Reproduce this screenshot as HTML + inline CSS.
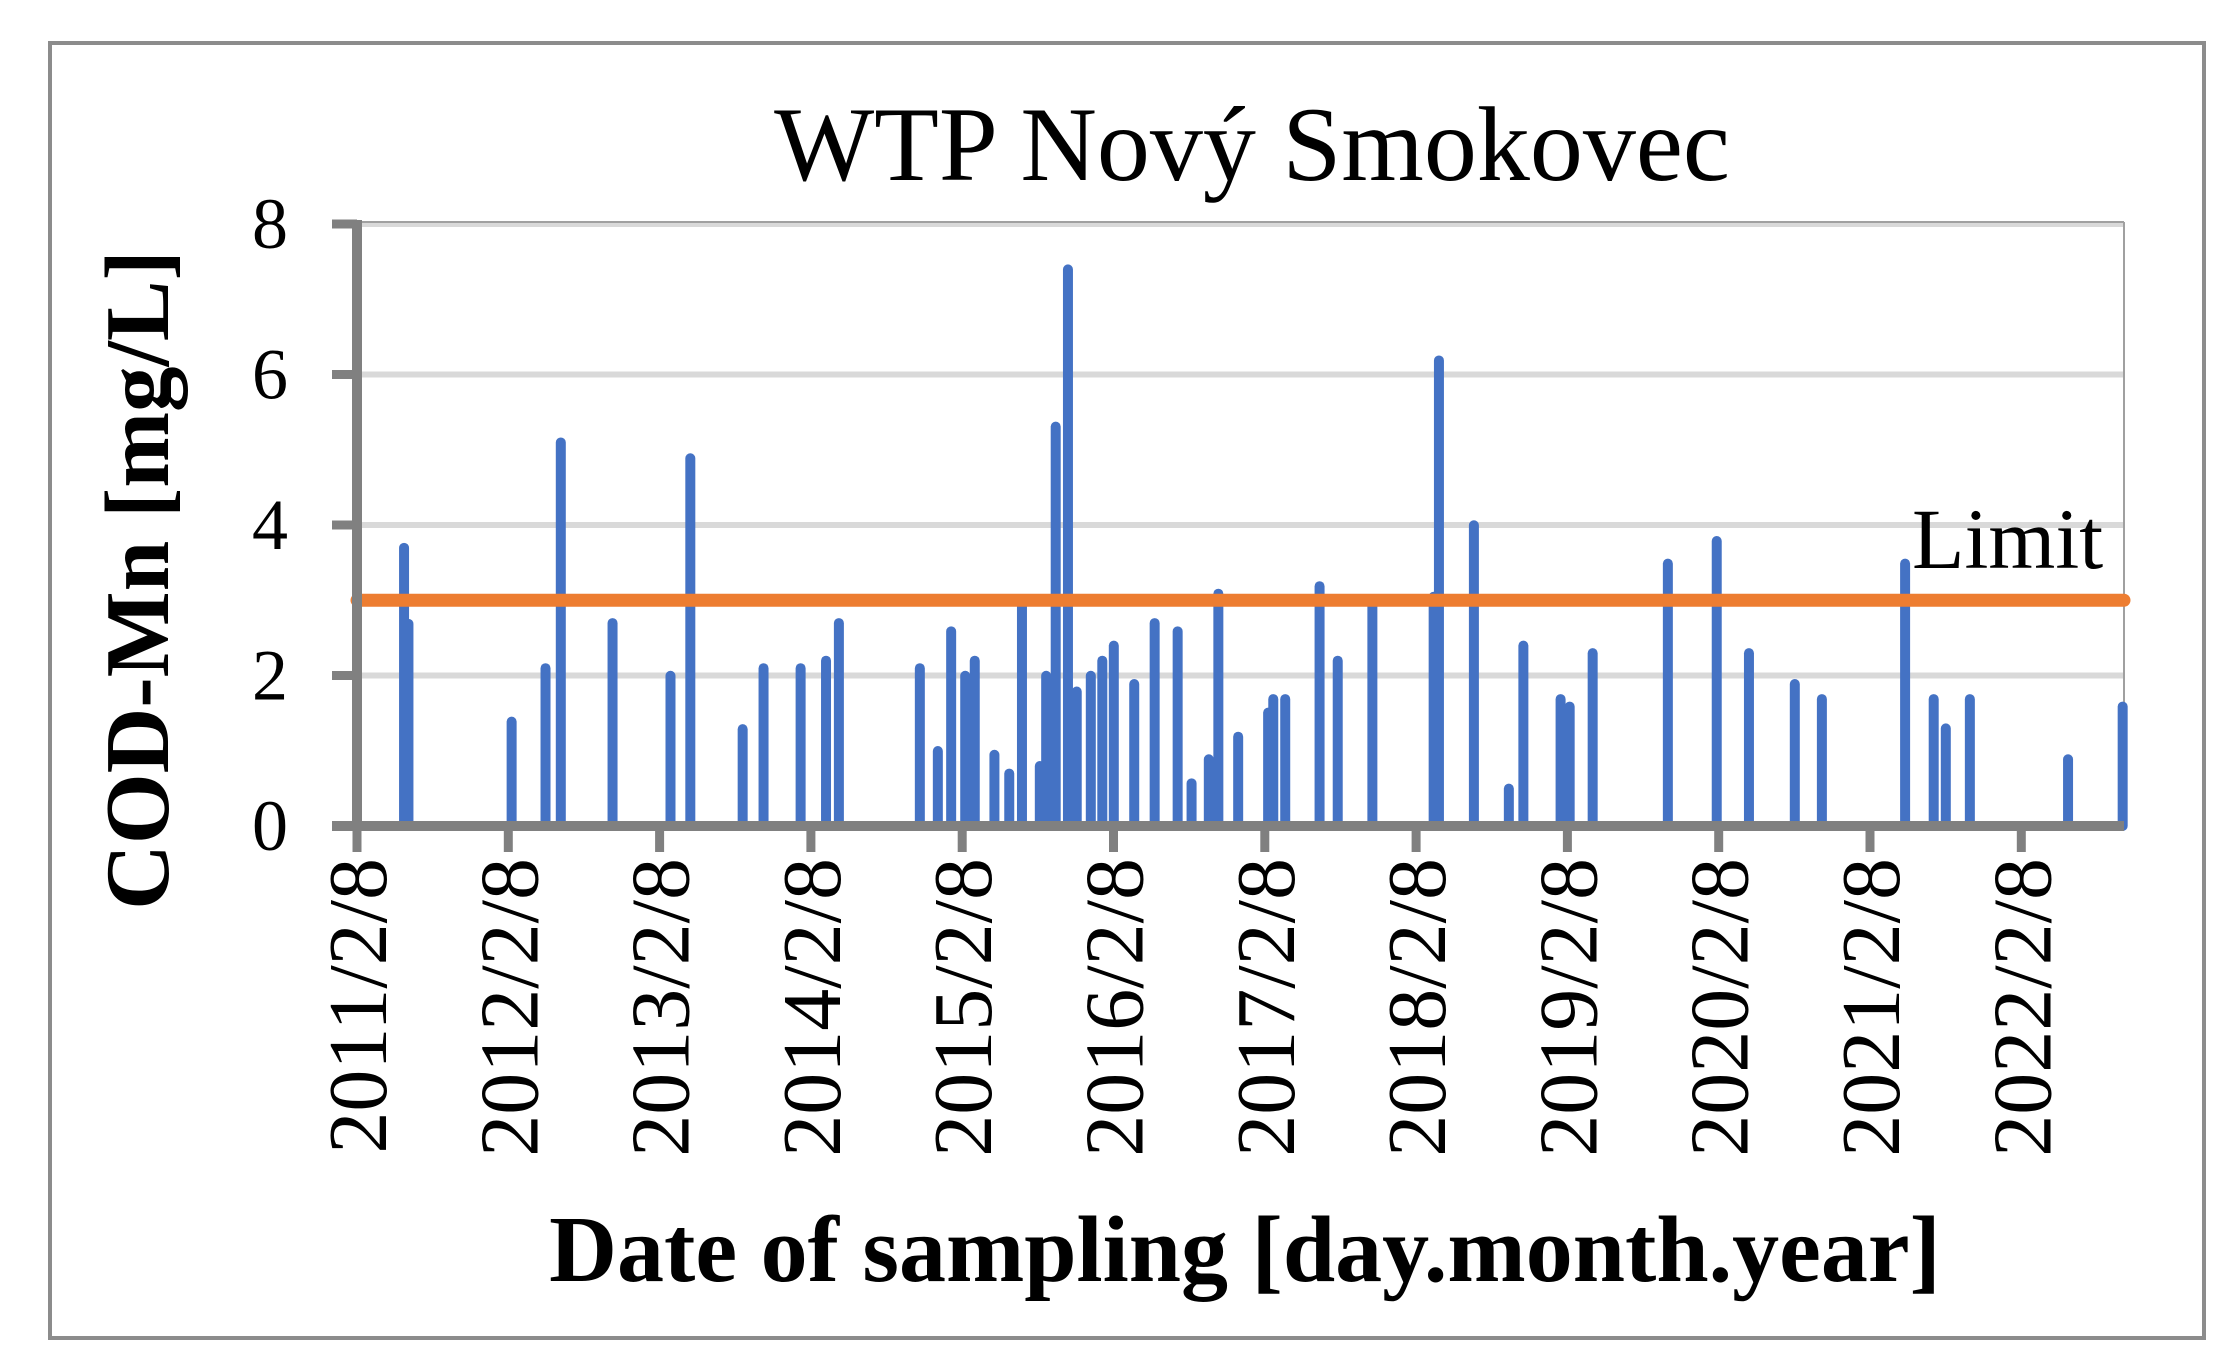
<!DOCTYPE html>
<html><head><meta charset="utf-8"><style>
html,body{margin:0;padding:0;background:#fff;}
svg{display:block;font-family:"Liberation Serif",serif;}
</style></head><body>
<svg id="chart" width="2233" height="1364" viewBox="0 0 2233 1364">
<rect x="50" y="43" width="2154" height="1295" fill="#fff" stroke="#8c8c8c" stroke-width="4"/>
<text x="1252" y="180" font-size="106" text-anchor="middle">WTP Nový Smokovec</text>
<g id="grid"></g>
<g id="bars"></g>
<g id="axes"></g>
<text x="1912" y="568" font-size="86">Limit</text>
<text transform="translate(168,580) rotate(-90)" font-size="91" font-weight="bold" text-anchor="middle">COD-Mn [mg/L]</text>
<text x="1245" y="1281" font-size="94" font-weight="bold" text-anchor="middle">Date of sampling [day.month.year]</text>
</svg>
<script>
// years elapsed since 2011/2/8
const sampleTimes = [0.311,0.340,1.022,1.246,1.347,1.689,2.072,2.203,2.549,2.687,2.932,3.100,3.185,3.720,3.839,3.927,4.020,4.083,4.213,4.311,4.395,4.513,4.555,4.618,4.699,4.757,4.850,4.926,5.002,5.137,5.272,5.424,5.516,5.630,5.693,5.824,6.022,6.056,6.135,6.362,6.482,6.711,7.116,7.151,7.382,7.613,7.709,7.955,8.015,8.167,8.664,8.987,9.200,9.503,9.682,10.232,10.421,10.501,10.660,11.309,11.670];
const codValues = [3.75,2.74,1.44,2.15,5.15,2.75,2.05,4.94,1.34,2.15,2.15,2.25,2.75,2.15,1.05,2.64,2.05,2.25,1.0,0.75,3.0,0.85,2.05,5.36,7.45,1.84,2.05,2.25,2.45,1.94,2.75,2.64,0.62,0.94,3.14,1.24,1.56,1.74,1.74,3.24,2.25,3.0,3.1,6.24,4.05,0.55,2.45,1.74,1.64,2.35,3.54,3.84,2.35,1.94,1.74,3.54,1.74,1.35,1.74,0.94,1.64];
const yTicks = [0,2,4,6,8];
const xTickLabels = ["2011/2/8","2012/2/8","2013/2/8","2014/2/8","2015/2/8","2016/2/8","2017/2/8","2018/2/8","2019/2/8","2020/2/8","2021/2/8","2022/2/8"];
const limitValue = [3];

const NS="http://www.w3.org/2000/svg";
const X0=357, YEAR=151.3, XR=2124, Y0=826, YTOP=224, YMAX=8;
const xs=t=>X0+t*YEAR;
const ys=v=>Y0-(v/YMAX)*(Y0-YTOP);
function mk(tag,attrs,parent){const e=document.createElementNS(NS,tag);for(const k in attrs)e.setAttribute(k,attrs[k]);parent.appendChild(e);return e;}
const grid=document.getElementById('grid'),bars=document.getElementById('bars'),axes=document.getElementById('axes');

yTicks.forEach(v=>{
  if(v>0){const g=mk('line',{x1:X0,x2:XR,y1:ys(v),y2:ys(v),stroke:'#d9d9d9','stroke-width':6},grid);
  
  }
  const tk=mk('line',{x1:X0-25,x2:X0,y1:ys(v),y2:ys(v),stroke:'#808080','stroke-width':9},axes);
  
  
  const t=mk('text',{x:288,y:ys(v)+24,'font-size':72,'text-anchor':'end'},axes);
  t.textContent=v;
  
  
});
const tb=mk('line',{x1:X0,x2:XR,y1:YTOP-2,y2:YTOP-2,stroke:'#a0a0a0','stroke-width':2},grid);


const rb=mk('line',{x1:XR,x2:XR,y1:YTOP-2,y2:Y0,stroke:'#a0a0a0','stroke-width':2},grid);



sampleTimes.forEach((t,i)=>{
  const b=mk('line',{x1:xs(t),x2:xs(t),y1:Y0,y2:ys(codValues[i])+4,stroke:'#4472C4','stroke-width':10,'stroke-linecap':'round'},bars);
  
  
});

const lim=mk('line',{x1:X0,x2:XR,y1:ys(limitValue[0]),y2:ys(limitValue[0]),stroke:'#ED7D31','stroke-width':13,'stroke-linecap':'round'},axes);



const ya=mk('line',{x1:X0,x2:X0,y1:YTOP-4,y2:Y0+4,stroke:'#808080','stroke-width':10},axes);


const xa=mk('line',{x1:X0-25,x2:XR,y1:Y0,y2:Y0,stroke:'#808080','stroke-width':10},axes);



xTickLabels.forEach((lab,i)=>{
  const x=xs(i);
  const tk=mk('line',{x1:x,x2:x,y1:Y0,y2:Y0+26,stroke:'#808080','stroke-width':9},axes);
  
  
  const t=mk('text',{transform:`translate(${x+29},858) rotate(-90)`,'font-size':84,'text-anchor':'end'},axes);
  t.textContent=lab;
  
  
});
</script>
</body></html>
